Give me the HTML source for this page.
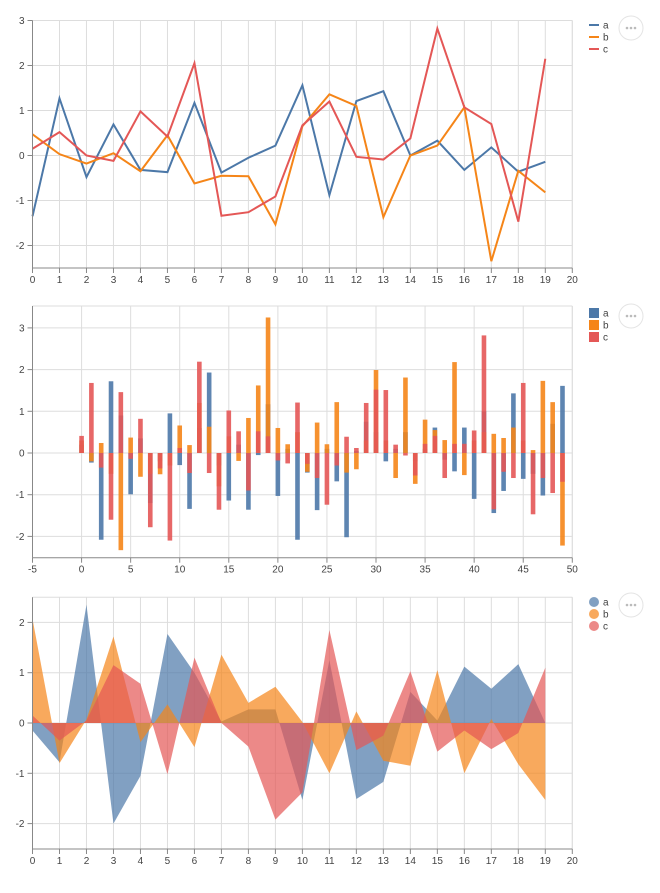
<!DOCTYPE html>
<html><head><meta charset="utf-8"><style>
body{margin:0;background:#fff;font-family:"Liberation Sans",sans-serif}
svg text{font-family:"Liberation Sans",sans-serif;font-size:10px;fill:#444}
</style></head><body>
<svg id="s" width="660" height="888"></svg>
<script>
const lineX = [0,1,2,3,4,5,6,7,8,9,10,11,12,13,14,15,16,17,18,19];
const lineA = [-1.35,1.27,-0.48,0.69,-0.32,-0.37,1.17,-0.38,-0.05,0.22,1.56,-0.88,1.21,1.43,0.0,0.33,-0.32,0.18,-0.36,-0.14];
const lineB = [0.47,0.03,-0.18,0.05,-0.35,0.45,-0.62,-0.45,-0.46,-1.53,0.65,1.36,1.1,-1.37,0.0,0.22,1.07,-2.35,-0.34,-0.82];
const lineC = [0.15,0.52,0.0,-0.12,0.98,0.42,2.05,-1.34,-1.26,-0.91,0.67,1.2,-0.03,-0.09,0.38,2.82,1.07,0.7,-1.47,2.15];
const barA = [0.2,-0.23,-2.08,1.72,0.9,-0.99,0.35,-1.2,-0.2,0.95,-0.29,-1.34,0.6,1.93,-0.3,-1.14,0.2,-1.36,-0.05,1.17,-1.03,0.1,-2.08,-0.47,-1.37,0.1,-0.68,-2.02,0.05,0.75,0.5,-0.2,0.1,0.5,-0.2,0.1,0.61,-0.16,-0.44,0.61,-1.1,1.0,-1.44,-0.91,1.43,-0.62,-0.5,-1.02,0.7,1.61];
const barB = [0.3,-0.2,0.24,-0.5,-2.33,0.37,-0.57,-0.5,-0.51,-0.3,0.66,0.19,1.2,0.63,-0.8,0.4,-0.19,0.84,1.62,3.25,0.6,0.21,0.5,-0.45,0.73,0.21,1.22,-0.47,-0.39,0.3,1.99,0.3,-0.6,1.81,-0.74,0.8,0.55,0.31,2.18,-0.53,0.3,0.5,0.46,0.36,0.61,0.3,0.07,1.73,1.22,-2.22];
const barC = [0.41,1.68,-0.35,-1.6,1.46,-0.14,0.82,-1.78,-0.37,-2.1,0.12,-0.48,2.19,-0.48,-1.36,1.02,0.52,-0.9,0.52,0.4,-0.18,-0.25,1.21,-0.26,-0.6,-1.24,-0.3,0.39,0.12,1.2,1.52,1.51,0.2,-0.06,-0.54,0.22,0.41,-0.6,0.22,0.22,0.54,2.82,-1.35,-0.45,-0.6,1.68,-1.47,-0.6,-0.96,-0.69];
const areaA = [-0.15,-0.78,2.35,-2.0,-1.05,1.77,1.0,0.03,0.27,0.27,-1.53,1.25,-1.51,-1.17,0.62,0.05,1.12,0.68,1.17,0.0];
const areaB = [2.07,-0.8,0.07,1.72,-0.38,0.37,-0.48,1.36,0.4,0.72,0.02,-1.0,0.23,-0.75,-0.85,1.05,-1.0,0.08,-0.82,-1.53];
const areaC = [0.15,-0.35,0.05,1.15,0.78,-1.02,1.3,0.0,-0.47,-1.92,-1.38,1.85,-0.54,-0.25,1.03,-0.57,-0.15,-0.52,-0.2,1.1];
const seriesNames = ["a","b","c"];
const colors = ["#4c78a8","#f58518","#e45756"];
const xTicks1 = [0,1,2,3,4,5,6,7,8,9,10,11,12,13,14,15,16,17,18,19,20];
const yTicks1 = [-2,-1,0,1,2,3];
const xTicks2 = [-5,0,5,10,15,20,25,30,35,40,45,50];
const yTicks2 = [-2,-1,0,1,2,3];
const yTicks3 = [-2,-1,0,1,2];

const svg = document.getElementById('s');
const NS = 'http://www.w3.org/2000/svg';
function mk(tag, attrs, parent){const e=document.createElementNS(NS,tag);for(const k in attrs)e.setAttribute(k,attrs[k]);(parent||svg).appendChild(e);return e;}
const L=32.5,R=572.3;

function axes(g, xs, ys, xTicks, yTicks, top, bottom){
  for(const t of xTicks){const l=mk('line',{x1:xs(t),x2:xs(t),y1:top,y2:bottom,stroke:'#ddd'},g);
    
    }
  for(const t of yTicks){const l=mk('line',{x1:L,x2:R,y1:ys(t),y2:ys(t),stroke:'#ddd'},g);
    
    }
  mk('line',{x1:L,x2:R,y1:top,y2:top,stroke:'#ddd'},g);
  mk('line',{x1:R,x2:R,y1:top,y2:bottom,stroke:'#ddd'},g);
}
function axisLines(g, xs, ys, xTicks, yTicks, top, bottom){
  const xa=mk('g',{},g);
  
  
  mk('line',{x1:L,x2:R,y1:bottom,y2:bottom,stroke:'#888'},xa);
  for(const t of xTicks){mk('line',{x1:xs(t),x2:xs(t),y1:bottom,y2:bottom+5,stroke:'#888'},xa);
    const tx=mk('text',{x:xs(t),y:bottom+15,'text-anchor':'middle'},xa);tx.textContent=t;
    
    }
  const ya=mk('g',{},g);
  
  
  mk('line',{x1:L,x2:L,y1:top,y2:bottom,stroke:'#888'},ya);
  for(const t of yTicks){mk('line',{x1:L-5,x2:L,y1:ys(t),y2:ys(t),stroke:'#888'},ya);
    const tx=mk('text',{x:L-8,y:ys(t)+3.5,'text-anchor':'end'},ya);tx.textContent=t;
    
    }
}
function legend(g, y0, kind){
  const lg=mk('g',{},g);
  
  
  seriesNames.forEach((n,i)=>{
    const y=y0+i*12;
    const eg=mk('g',{},lg);
    
    
    if(kind==='line') mk('line',{x1:589,x2:599,y1:y,y2:y,stroke:colors[i],'stroke-width':2},eg);
    else if(kind==='rect') mk('rect',{x:589,y:y-5,width:10,height:10,fill:colors[i]},eg);
    else mk('circle',{cx:594,cy:y,r:5,fill:colors[i],opacity:0.7},eg);
    const t=mk('text',{x:603,y:y+3.5},eg);t.textContent=n;
  });
  const b=mk('g',{},g);
  
  
  mk('circle',{cx:631,cy:y0+3,r:12,fill:'#fff',stroke:'#e4e4e4'},b);
  for(let k=-1;k<=1;k++) mk('circle',{cx:631+k*4,cy:y0+3,r:1.3,fill:'#bbb'},b);
}

// Panel 1: line chart
(function(){
  const top=20.5,bottom=268;
  const xs=v=>L+(v-0)/20*(R-L);
  const ys=v=>155.5-v*45;
  const g=mk('g',{});
  
  
  axes(g,xs,ys,xTicks1,yTicks1,top,bottom);
  [lineA,lineB,lineC].forEach((arr,i)=>{
    const d=arr.map((v,j)=>(j?'L':'M')+xs(lineX[j])+','+ys(v)).join('');
    const p=mk('path',{d:d,fill:'none',stroke:colors[i],'stroke-width':2},g);
    
    
  });
  axisLines(g,xs,ys,xTicks1,yTicks1,top,bottom);
  legend(g,25,'line');
})();

// Panel 2: bar chart (overlaid)
(function(){
  const top=306,bottom=557.7;
  const xs=v=>L+(v+5)/55*(R-L);
  const ys=v=>453-v*41.7;
  const g=mk('g',{});
  
  
  axes(g,xs,ys,xTicks2,yTicks2,top,bottom);
  [barA,barB,barC].forEach((arr,i)=>{
    arr.forEach((v,j)=>{
      const y1=ys(Math.max(v,0)),y2=ys(Math.min(v,0));
      const r=mk('rect',{x:xs(j)-2.3,y:y1,width:4.6,height:Math.max(y2-y1,0.5),fill:colors[i],opacity:0.9},g);
      
      
    });
  });
  axisLines(g,xs,ys,xTicks2,yTicks2,top,bottom);
  legend(g,313,'rect');
})();

// Panel 3: area chart
(function(){
  const top=597.3,bottom=849;
  const xs=v=>L+(v-0)/20*(R-L);
  const ys=v=>723-v*50.3;
  const g=mk('g',{});
  
  
  axes(g,xs,ys,xTicks1,yTicks3,top,bottom);
  [areaA,areaB,areaC].forEach((arr,i)=>{
    let d=arr.map((v,j)=>(j?'L':'M')+xs(lineX[j])+','+ys(v)).join('');
    d+='L'+xs(lineX[arr.length-1])+','+ys(0)+'L'+xs(lineX[0])+','+ys(0)+'Z';
    const p=mk('path',{d:d,fill:colors[i],opacity:0.7},g);
    
    
  });
  axisLines(g,xs,ys,xTicks1,yTicks3,top,bottom);
  legend(g,602,'circle');
})();
</script>
</body></html>
